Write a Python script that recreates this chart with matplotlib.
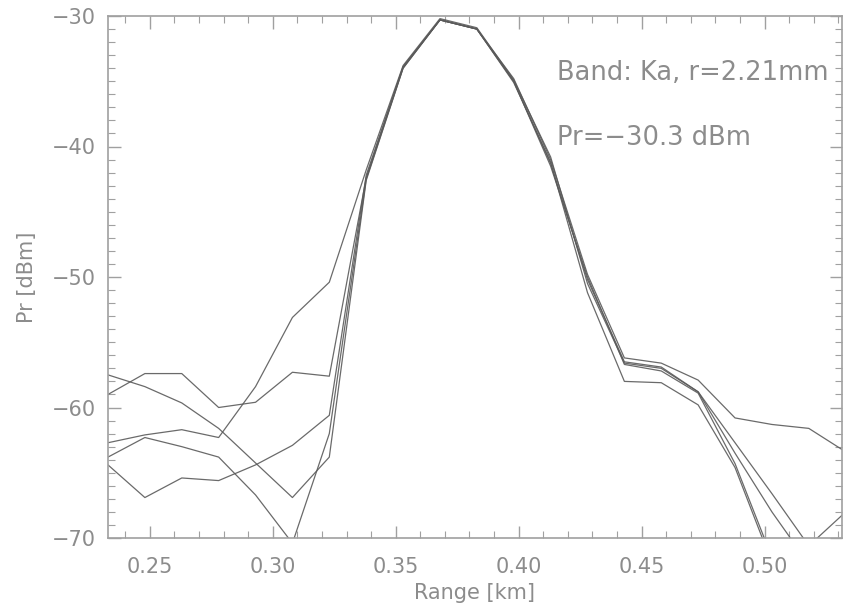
import matplotlib
matplotlib.use("Agg")
import matplotlib.pyplot as plt
from matplotlib.ticker import MultipleLocator

range_km = [0.233, 0.248, 0.263, 0.278, 0.293, 0.308, 0.323, 0.338, 0.353, 0.368, 0.383,
            0.398, 0.413, 0.428, 0.443, 0.458, 0.473, 0.488, 0.503, 0.518, 0.533]

pr_1 = [-59.0, -57.4, -57.4, -60.0, -59.6, -57.3, -57.6, -42.4, -33.9, -30.3, -31.0,
        -34.8, -41.0, -49.8, -56.2, -56.6, -57.9, -60.8, -61.3, -61.6, -63.4]
pr_2 = [-57.5, -58.4, -59.65, -61.6, -64.25, -66.9, -63.8, -42.6, -34.0, -30.3, -31.0,
        -35.0, -41.3, -50.2, -56.5, -56.9, -58.8, -62.7, -66.6, -70.6, -68.0]
pr_3 = [-62.7, -62.1, -61.7, -62.3, -58.4, -53.1, -50.4, -41.8, -33.8, -30.2, -30.9,
        -34.9, -40.8, -50.5, -56.6, -57.0, -58.8, -63.5, -68.0, -72.0, -75.0]
pr_4 = [-63.8, -62.3, -63.0, -63.8, -66.7, -70.4, -62.0, -42.5, -34.0, -30.3, -31.0,
        -35.1, -41.2, -51.2, -58.0, -58.1, -59.8, -64.6, -71.9, -78.0, -84.0]
pr_5 = [-64.4, -66.9, -65.4, -65.6, -64.4, -62.9, -60.6, -42.2, -33.9, -30.3, -31.0,
        -35.0, -41.5, -50.0, -56.7, -57.2, -58.9, -64.3, -71.5, -77.0, -83.0]
series = [pr_1, pr_2, pr_3, pr_4, pr_5]

x_ticks = [0.25, 0.30, 0.35, 0.40, 0.45, 0.50]
y_ticks = [-70, -60, -50, -40, -30]

txt_col = '#8c8c8c'
axis_col = '#a0a0a0'
line_col = '#5a5a5a'

fig = plt.figure(figsize=(8.45, 6.07), dpi=100)
ax = fig.add_axes([108/845, 1-538/607, (842-108)/845, (538-16)/607])

for s in series:
    ax.plot(range_km, s, color=line_col, lw=0.9, alpha=0.9)

ax.set_xlim(0.233, 0.5315)
ax.set_ylim(-70, -30)
ax.set_xticks(x_ticks)
ax.set_xticklabels([f"{v:.2f}" for v in x_ticks])
ax.set_yticks(y_ticks)
ax.set_yticklabels([f"\u2212{abs(v)}" for v in y_ticks])
ax.xaxis.set_minor_locator(MultipleLocator(0.01))
ax.yaxis.set_minor_locator(MultipleLocator(1))
ax.tick_params(which='both', direction='in', top=True, right=True,
               color=axis_col, labelcolor=txt_col, labelsize=15)
ax.tick_params(which='major', length=9, width=1)
ax.tick_params(which='minor', length=5, width=0.8)
ax.tick_params(axis='x', pad=14)
ax.tick_params(axis='y', pad=9)
for sp in ax.spines.values():
    sp.set_color(axis_col)
    sp.set_linewidth(1.2)

ax.set_xlabel("Range [km]", color=txt_col, fontsize=15, labelpad=4)
ax.set_ylabel("Pr [dBm]", color=txt_col, fontsize=15, labelpad=10)

ax.text(557/845, 1-73/607, "Band: Ka, r=2.21mm", transform=fig.transFigure,
        color=txt_col, fontsize=18.5, va='center', ha='left')
ax.text(557/845, 1-138/607, "Pr=\u221230.3 dBm", transform=fig.transFigure,
        color=txt_col, fontsize=18.5, va='center', ha='left')

fig.savefig("out.png", dpi=100)
